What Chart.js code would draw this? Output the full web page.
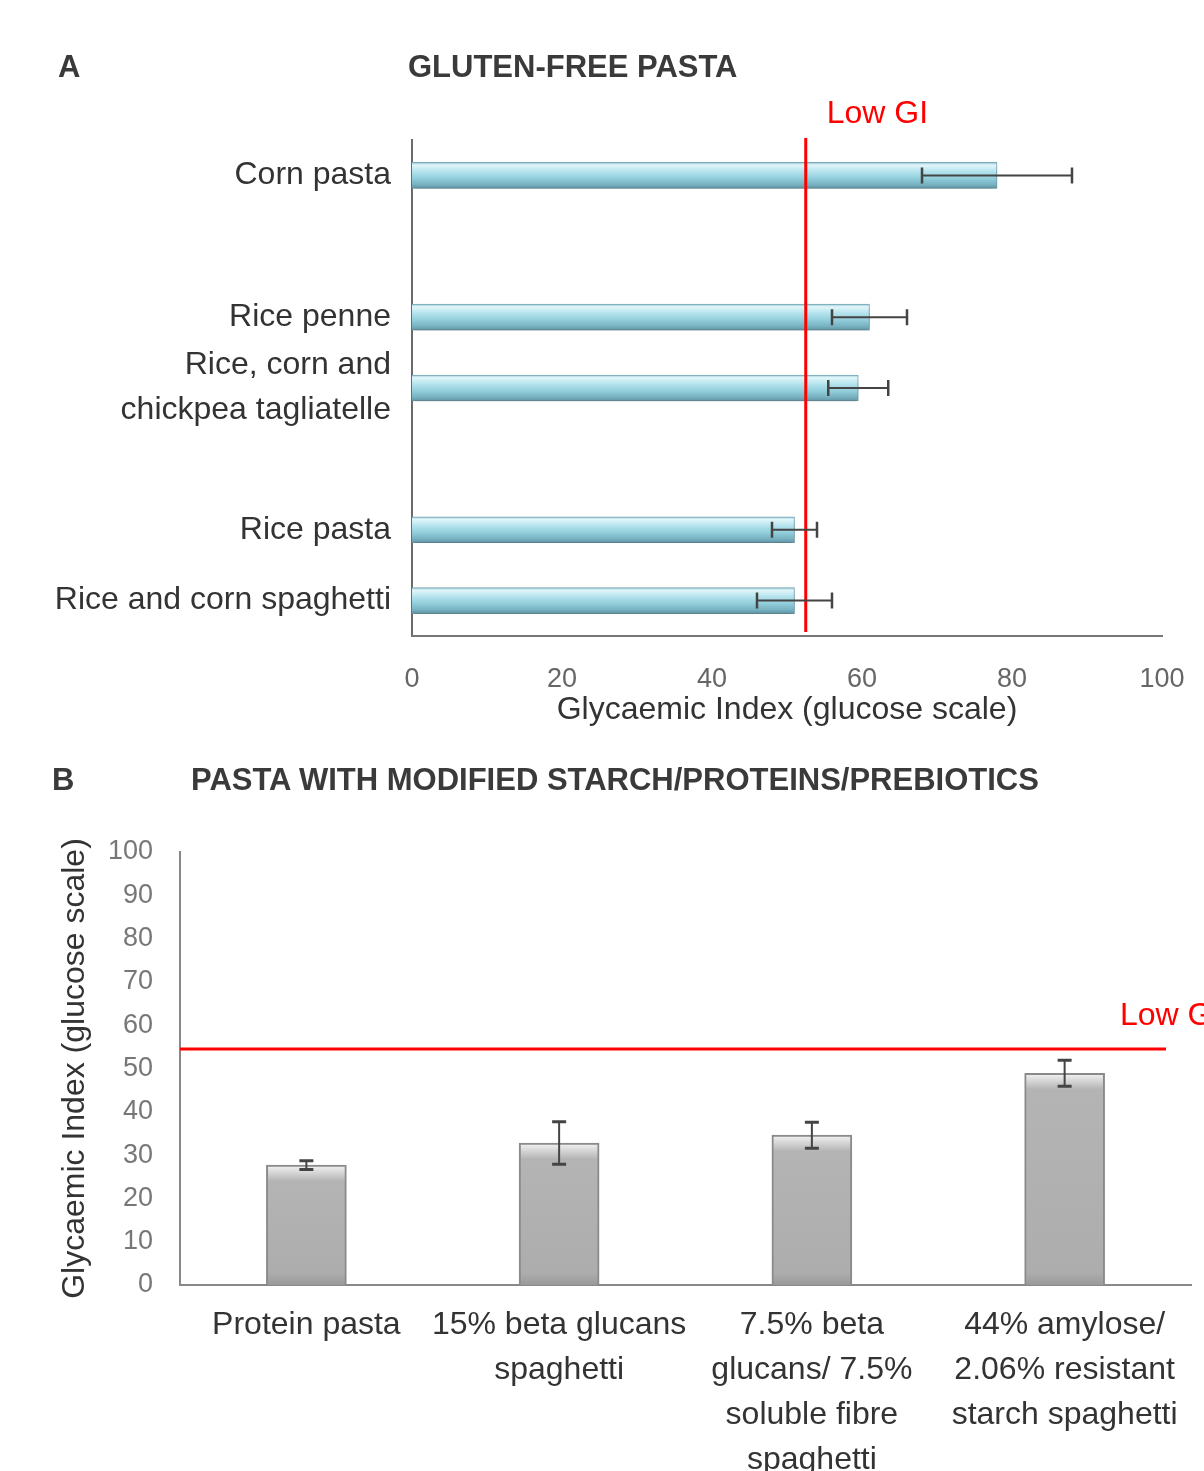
<!DOCTYPE html>
<html>
<head>
<meta charset="utf-8">
<script src="https://cdn.jsdelivr.net/npm/chart.js@4.4.1/dist/chart.umd.min.js"></script>
<style>
body{margin:0;background:#fff;width:1204px;height:1471px;overflow:hidden;font-family:"Liberation Sans",Arial,sans-serif;}
.panel{position:absolute;left:0;width:1204px;}
#panelA{top:0;height:745px;}
#panelB{top:745px;height:726px;}
canvas{position:absolute;left:0;top:0;}
.head{position:absolute;font-weight:bold;font-size:31px;line-height:1;color:#3a3a3a;white-space:nowrap;z-index:2;}
</style>
</head>
<body>

<div class="panel" id="panelA">
  <canvas id="chartA" width="1204" height="745"></canvas>
  <div class="head" style="left:58px;top:51px">A</div>
  <div class="head" style="left:408px;top:51px">GLUTEN-FREE PASTA</div>
</div>

<div class="panel" id="panelB">
  <canvas id="chartB" width="1204" height="726"></canvas>
  <div class="head" style="left:52px;top:19px">B</div>
  <div class="head" style="left:191px;top:19px">PASTA WITH MODIFIED STARCH/PROTEINS/PREBIOTICS</div>
</div>

<script>
// A: gluten-free pasta (empty slots keep the gaps between groups)
const catsA = [
  'Corn pasta',
  '',
  'Rice penne',
  ['Rice, corn and', 'chickpea tagliatelle'],
  '',
  'Rice pasta',
  'Rice and corn spaghetti'
]
const giA = [78, null, 61, 59.5, null, 51, 51]
const errA = [10, null, 5, 4, null, 3, 5]
const lowGiA = 52.5

// B: modified starch / proteins / prebiotics
const catsB = [
  'Protein pasta',
  ['15% beta glucans', 'spaghetti'],
  ['7.5% beta', 'glucans/ 7.5%', 'soluble fibre', 'spaghetti'],
  ['44% amylose/', '2.06% resistant', 'starch spaghetti']
]
const giB = [27.7, 32.8, 34.6, 48.9]
const errB = [1, 4.9, 3, 3]
const lowGiB = 54.5

const axisTitle = 'Glycaemic Index (glucose scale)'
const lowGiText = 'Low GI'

const FONT = '"Liberation Sans", Arial, sans-serif'
Chart.defaults.font.family = FONT

function blueFill(c){
  const y = c.chart.scales.y
  if (!y || c.dataIndex === undefined) return '#9ed6e2'
  const mid = y.getPixelForValue(c.dataIndex)
  if (!isFinite(mid)) return '#9ed6e2'
  const g = c.chart.ctx.createLinearGradient(0, mid - 13, 0, mid + 13)
  g.addColorStop(0, '#8fc4d1')
  g.addColorStop(0.1, '#e2f6fa')
  g.addColorStop(0.35, '#b4e3ed')
  g.addColorStop(0.6, '#93cfdc')
  g.addColorStop(0.85, '#78b2c2')
  g.addColorStop(1, '#5f93a3')
  return g
}

function greyFill(c){
  const y = c.chart.scales.y
  if (!y || c.dataIndex === undefined) return '#b0b0b0'
  const top = y.getPixelForValue(giB[c.dataIndex])
  const bottom = y.getPixelForValue(0)
  const h = bottom - top
  if (!isFinite(top) || !isFinite(bottom) || h <= 0) return '#b0b0b0'
  const g = c.chart.ctx.createLinearGradient(0, top, 0, bottom)
  g.addColorStop(0, '#f4f4f4')
  g.addColorStop(Math.min(1, 16 / h), '#b4b4b4')
  g.addColorStop(Math.max(0, 1 - 12 / h), '#adadad')
  g.addColorStop(1, '#999')
  return g
}

// soft shadow under the blue bars
const shadowA = {
  id:'shadowA',
  beforeDatasetsDraw(chart){
    const ctx = chart.ctx
    ctx.save()
    ctx.shadowColor = 'rgba(0,0,0,0.25)'
    ctx.shadowBlur = 6
    ctx.shadowOffsetY = 5
  },
  afterDatasetsDraw(chart){
    chart.ctx.restore()
  }
}

// red threshold line, its label and the error bars
function marks(horizontal, values, errs, lowGi){
  return {
    id:'marks',
    afterDatasetsDraw(chart){
      const ctx = chart.ctx
      const area = chart.chartArea
      const vs = horizontal ? chart.scales.x : chart.scales.y
      const meta = chart.getDatasetMeta(0)

      ctx.save()
      ctx.strokeStyle = '#ff0000'
      ctx.lineWidth = 3
      ctx.beginPath()
      const p = vs.getPixelForValue(lowGi)
      if (horizontal){
        ctx.moveTo(p, area.top - 2)
        ctx.lineTo(p, area.bottom - 4)
      } else {
        ctx.moveTo(area.left, p)
        ctx.lineTo(area.right - 25, p)
      }
      ctx.stroke()

      ctx.fillStyle = '#ff0000'
      ctx.font = '32px ' + FONT
      ctx.textBaseline = 'middle'
      if (horizontal) ctx.fillText(lowGiText, p + 21, area.top - 26)
      else ctx.fillText(lowGiText, area.right - 71, p - 33)

      ctx.strokeStyle = '#444'
      values.forEach((v, i) => {
        if (v === null) return
        const bar = meta.data[i]
        const a = vs.getPixelForValue(v - errs[i])
        const b = vs.getPixelForValue(v + errs[i])
        ctx.beginPath()
        if (horizontal){
          ctx.lineWidth = 2
          ctx.moveTo(a, bar.y); ctx.lineTo(b, bar.y)
          ctx.stroke()
          ctx.beginPath()
          ctx.lineWidth = 2.5
          ctx.moveTo(a, bar.y - 8); ctx.lineTo(a, bar.y + 8)
          ctx.moveTo(b, bar.y - 8); ctx.lineTo(b, bar.y + 8)
        } else {
          ctx.lineWidth = 2
          ctx.moveTo(bar.x, a); ctx.lineTo(bar.x, b)
          ctx.stroke()
          ctx.beginPath()
          ctx.lineWidth = 3
          ctx.moveTo(bar.x - 7, a); ctx.lineTo(bar.x + 7, a)
          ctx.moveTo(bar.x - 7, b); ctx.lineTo(bar.x + 7, b)
        }
        ctx.stroke()
      })
      ctx.restore()
    }
  }
}

new Chart(document.getElementById('chartA'), {
  type:'bar',
  data:{
    labels:catsA,
    datasets:[{
      data:giA,
      backgroundColor:blueFill,
      borderColor:'#7aa9b7',
      borderWidth:1,
      barThickness:26
    }]
  },
  options:{
    indexAxis:'y',
    responsive:false,
    animation:false,
    layout:{padding:{top:140, right:42, bottom:0, left:0}},
    plugins:{legend:{display:false}, tooltip:{enabled:false}},
    scales:{
      y:{
        grid:{display:false, drawTicks:false},
        border:{display:true, color:'#6b6b6b', width:2},
        ticks:{
          color:'#333',
          padding:21,
          autoSkip:false,
          font:{size:32, lineHeight:1.4}
        },
        afterFit:scale => { scale.width = 412 }
      },
      x:{
        min:0,
        max:100,
        grid:{display:false, drawTicks:false},
        border:{display:true, color:'#777', width:2},
        ticks:{
          stepSize:20,
          color:'#666',
          padding:27,
          font:{size:27}
        },
        title:{
          display:true,
          text:axisTitle,
          color:'#333',
          font:{size:32},
          padding:{top:0, bottom:16}
        },
        afterFit:scale => {
          scale.height = 109
          // tick padding is vertical here; do not let it widen the side margins
          scale.paddingLeft = 0
          scale.paddingRight = 24
        }
      }
    }
  },
  plugins:[shadowA, marks(true, giA, errA, lowGiA)]
})

new Chart(document.getElementById('chartB'), {
  type:'bar',
  data:{
    labels:catsB,
    datasets:[{
      data:giB,
      backgroundColor:greyFill,
      borderColor:'#8a8a8a',
      borderWidth:2,
      barThickness:80
    }]
  },
  options:{
    responsive:false,
    animation:false,
    layout:{padding:{top:107, right:13, bottom:0, left:0}},
    plugins:{legend:{display:false}, tooltip:{enabled:false}},
    scales:{
      y:{
        min:0,
        max:100,
        grid:{display:false, drawTicks:false},
        border:{display:true, color:'#888', width:2},
        ticks:{
          stepSize:10,
          color:'#777',
          padding:27,
          font:{size:27}
        },
        title:{
          display:true,
          text:axisTitle,
          color:'#333',
          font:{size:32},
          padding:{top:56, bottom:0}
        },
        afterFit:scale => { scale.width = 180 }
      },
      x:{
        grid:{display:false, drawTicks:false},
        border:{display:true, color:'#888', width:2},
        ticks:{
          color:'#333',
          padding:18,
          maxRotation:0,
          autoSkip:false,
          font:{size:32, lineHeight:1.4}
        },
        afterFit:scale => { scale.height = 186 }
      }
    }
  },
  plugins:[marks(false, giB, errB, lowGiB)]
})
</script>
</body>
</html>
